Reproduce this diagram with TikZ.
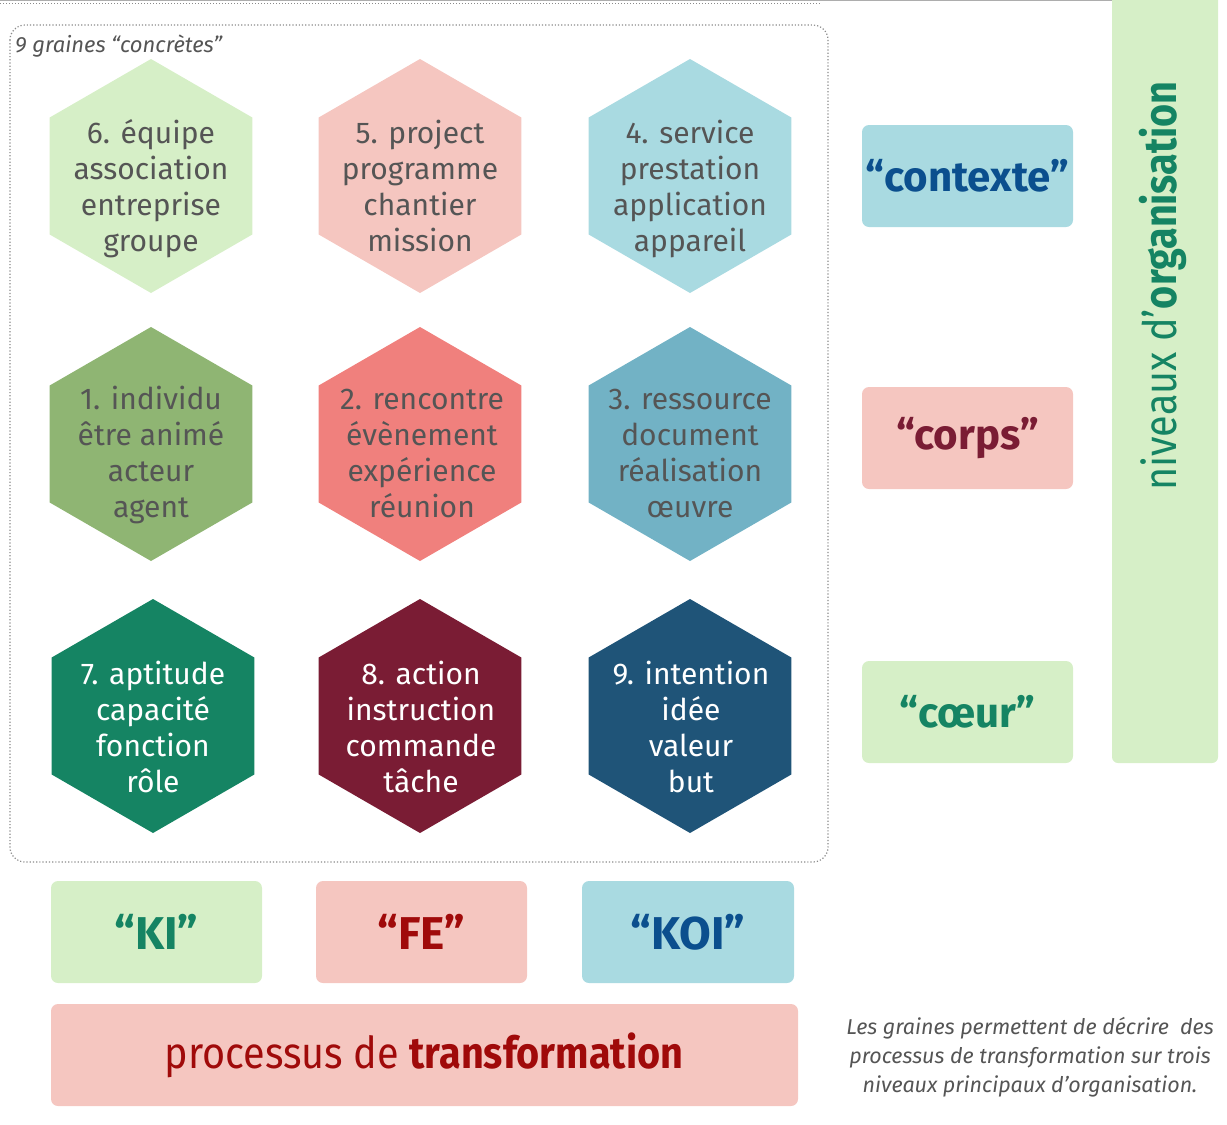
\documentclass[tikz,border=0pt]{standalone}
\usepackage{fontspec}
\setmainfont{Fira Sans}
\newfontfamily\condfont[FakeStretch=0.86]{Fira Sans}
\newfontfamily\condfontb[FakeStretch=0.9]{Fira Sans}
\usetikzlibrary{shapes.geometric}
\definecolor{lgreen}{HTML}{D6EFC7}
\definecolor{lpink}{HTML}{F5C6C0}
\definecolor{lblue}{HTML}{A9DAE1}
\definecolor{hgreen}{HTML}{8FB573}
\definecolor{hsalmon}{HTML}{F0807D}
\definecolor{hteal}{HTML}{72B2C5}
\definecolor{dgreen}{HTML}{158463}
\definecolor{dburg}{HTML}{7A1C34}
\definecolor{dnavy}{HTML}{1F5478}
\definecolor{tgray}{HTML}{555555}
\definecolor{tblue}{HTML}{0B4F8E}
\definecolor{tred}{HTML}{A00A0A}
\definecolor{fgray}{HTML}{8A8A8A}
\begin{document}
\begin{tikzpicture}[x=1pt,y=-1pt,
  hexa/.style={regular polygon, regular polygon sides=6, shape border rotate=30,
    minimum size=234pt, inner sep=0pt, draw=none},
  hextext/.style={align=center, font=\fontsize{30}{36}\selectfont, text=tgray, inner sep=0pt},
  hexwhite/.style={hextext, text=white},
  btext/.style={font=\fontsize{42}{48}\selectfont\bfseries, inner sep=0pt},
  bbtext/.style={font=\fontsize{46}{50}\selectfont\bfseries, inner sep=0pt}
]
\useasboundingbox (0,0) rectangle (1227,1125);
% top edge remnants
\draw[fgray!70, line width=1pt] (0,0.5) -- (1112,0.5);
\draw[fgray, dotted, line width=1pt] (0,3) -- (820,3);
% dotted frame
\draw[fgray, dotted, line width=1.2pt, rounded corners=15pt] (10,25) rectangle (828,862);
\node[anchor=west, font=\fontsize{22}{26}\selectfont\itshape, text=tgray, inner sep=0pt] (frametitle) at (15,46) {9 graines “concrètes”};
% hexagons row 1
\node[hexa, fill=lgreen] (h6) at (151,176) {};
\node[hexa, fill=lpink] (h5) at (420,176) {};
\node[hexa, fill=lblue] (h4) at (690,176) {};
\node[hextext] (t6) at (151,190) {\strut 6. équipe\\association\\entreprise\\groupe\strut};
\node[hextext] (t5) at (420,190) {\strut 5. project\\programme\\chantier\\mission\strut};
\node[hextext] (t4) at (690,190) {\strut 4. service\\prestation\\application\\appareil\strut};
% row 2
\node[hexa, fill=hgreen] (h1) at (151,444) {};
\node[hexa, fill=hsalmon] (h2) at (420,444) {};
\node[hexa, fill=hteal] (h3) at (690,444) {};
\node[hextext] (t1) at (151,456) {\strut 1. individu\\être animé\\acteur\\agent\strut};
\node[hextext] (t2) at (422,456) {\strut 2. rencontre\\évènement\\expérience\\réunion\strut};
\node[hextext] (t3) at (690,456) {\strut 3. ressource\\document\\réalisation\\œuvre\strut};
% row 3
\node[hexa, fill=dgreen] (h7) at (153,716) {};
\node[hexa, fill=dburg] (h8) at (420,716) {};
\node[hexa, fill=dnavy] (h9) at (690,716) {};
\node[hexwhite] (t7) at (153,731) {\strut 7. aptitude\\capacité\\fonction\\rôle\strut};
\node[hexwhite] (t8) at (421,731) {\strut 8. action\\instruction\\commande\\tâche\strut};
\node[hexwhite] (t9) at (691,731) {\strut 9. intention\\idée\\valeur\\but\strut};
% right boxes
\fill[lblue, rounded corners=7pt] (862,125) rectangle (1073,227);
\node[btext, text=tblue] (ctx) at (967.5,176) {“contexte”};
\fill[lpink, rounded corners=7pt] (862,387) rectangle (1073,489);
\node[btext, text=dburg] (corps) at (967.5,438) {“corps”};
\fill[lgreen, rounded corners=7pt] (862,661) rectangle (1073,763);
\node[btext, text=dgreen] (coeur) at (967.5,712) {“cœur”};
% vertical bar
\fill[lgreen, rounded corners=6pt] (1112,-10) rectangle (1218,763);
\node[rotate=90, font=\fontsize{46}{50}\condfont, text=dgreen, inner sep=0pt] (niv) at (1163,286) {niveaux d’\textbf{organisation}};
% bottom boxes
\fill[lgreen, rounded corners=7pt] (51,881) rectangle (262,983);
\node[bbtext, text=dgreen] (ki) at (156.5,932) {“KI”};
\fill[lpink, rounded corners=7pt] (316,881) rectangle (527,983);
\node[bbtext, text=tred] (fe) at (421.5,932) {“FE”};
\fill[lblue, rounded corners=7pt] (582,881) rectangle (794,983);
\node[bbtext, text=tblue] (koi) at (688,932) {“KOI”};
\fill[lpink, rounded corners=7pt] (51,1004) rectangle (798,1106);
\node[font=\fontsize{44}{48}\condfontb, text=tred, inner sep=0pt] (proc) at (424,1055) {processus de \textbf{transformation}};
% caption
\node[align=center, font=\fontsize{21.5}{29}\selectfont\itshape, text=tgray, inner sep=0pt] (cap) at (1030,1057) {Les graines permettent de décrire\ \ des\\processus de transformation sur trois\\niveaux principaux d’organisation.};
\end{tikzpicture}
\end{document}
